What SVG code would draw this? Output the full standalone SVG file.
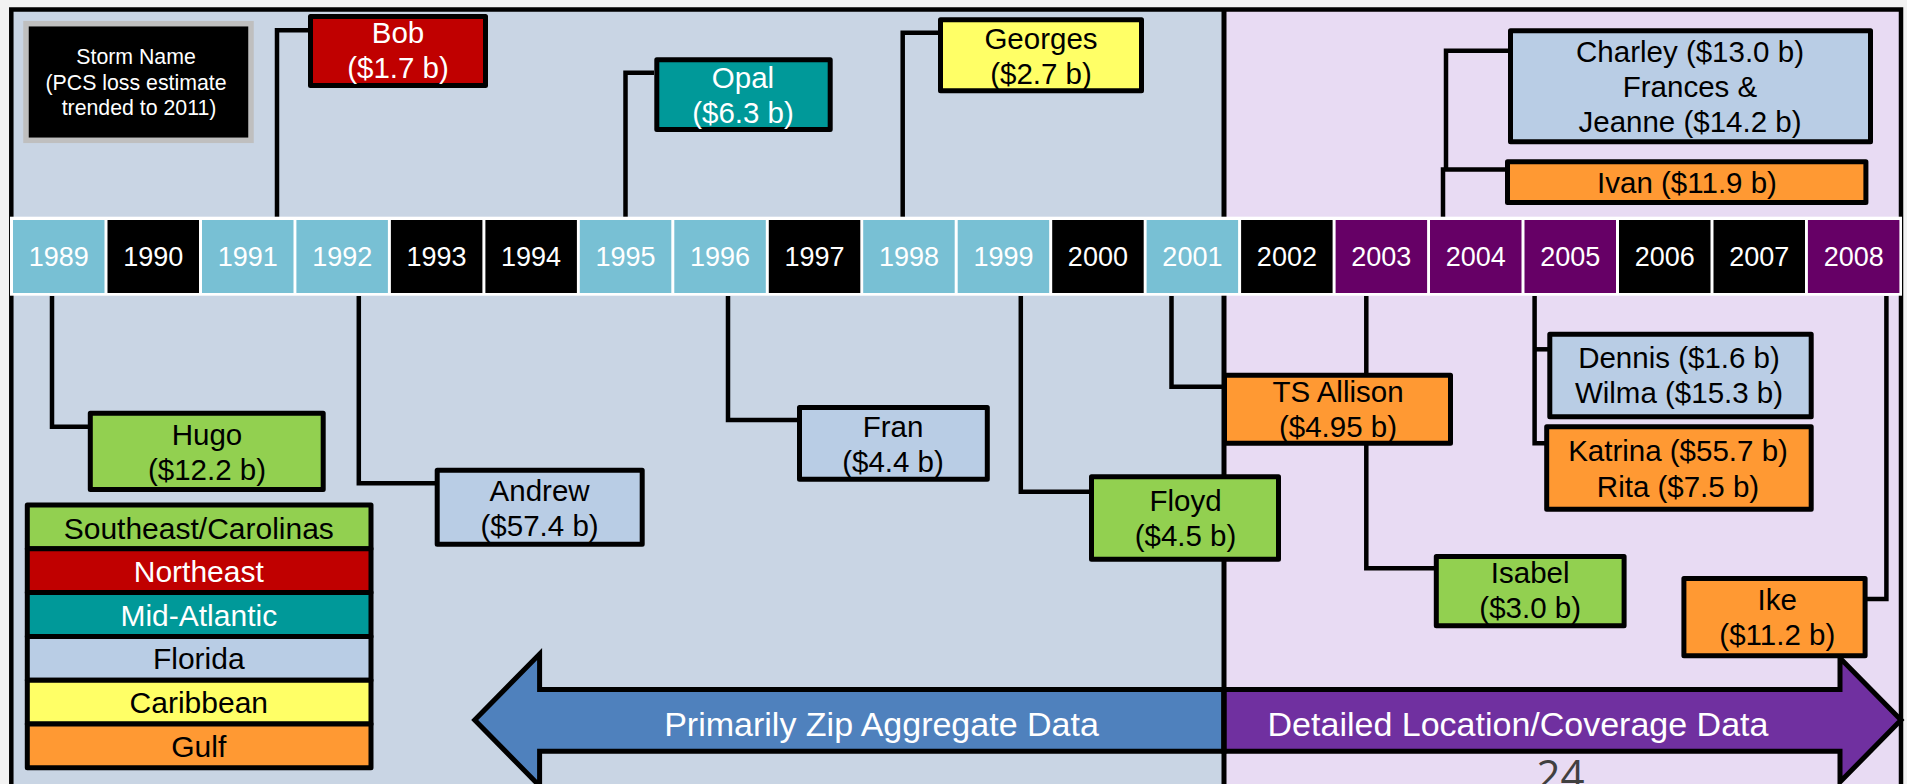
<svg xmlns="http://www.w3.org/2000/svg" width="1907" height="784" viewBox="0 0 1907 784">
  <style>
    .t { font-family: "Liberation Sans", Arial, sans-serif; text-anchor: middle; }
    .n { font-size: 29.5px; fill: #000; }
    .w { fill: #fff; }
    .yr { font-size: 27px; fill: #fff; }
    .lg { font-size: 30px; }
    .box { stroke: #000; stroke-width: 5; stroke-linejoin: round; }
    .conn { fill: none; stroke: #000; stroke-width: 4.5; stroke-linejoin: miter; }
    .green { fill: #92d050; }
    .red { fill: #c00000; }
    .teal { fill: #009999; }
    .fl { fill: #b9cde5; }
    .yel { fill: #ffff66; }
    .org { fill: #ff9933; }
    .lb { fill: #78c0d4; }
    .blk { fill: #000; }
    .pur { fill: #660066; }
  </style>

  <!-- page and the two era panels -->
  <rect x="0" y="0" width="1907" height="784" fill="#f2f2f2"/>
  <rect x="11.3" y="9.5" width="1212.7" height="800" fill="#c9d5e4"/>
  <rect x="1224" y="9.5" width="677" height="800" fill="#e8dbf3"/>
  <rect x="11.3" y="9.5" width="1889.7" height="800" fill="none" stroke="#000" stroke-width="4.5"/>

  <!-- data-era arrows -->
  <g id="arrow-zip">
    <path d="M474.7,720 L539.6,654 L539.6,689.5 L1224,689.5 L1224,751.2 L539.6,751.2 L539.6,786 Z" fill="#4f81bd" stroke="#000" stroke-width="5" stroke-linejoin="miter"/>
    <text class="t w" x="881.5" y="736" font-size="34">Primarily Zip Aggregate Data</text>
  </g>
  <g id="arrow-detailed">
    <path d="M1224,689.5 L1840,689.5 L1840,658 L1901,720 L1840,782 L1840,751.2 L1224,751.2 Z" fill="#7030a0" stroke="#000" stroke-width="5" stroke-linejoin="miter"/>
    <text class="t w" x="1518" y="736" font-size="34">Detailed Location/Coverage Data</text>
  </g>

  <!-- era divider -->
  <line x1="1224" y1="9.5" x2="1224" y2="784" stroke="#000" stroke-width="5"/>

  <!-- connectors from years to storms -->
  <g id="connectors" class="conn">
    <path d="M277,217 V30.3 H308"/>
    <path d="M625.5,217 V72.8 H654"/>
    <path d="M902.7,217 V32.7 H938"/>
    <path d="M1443,217 V169.5 H1505"/>
    <path d="M1446,169.5 V50.7 H1508"/>
    <path d="M52,296 V426.7 H88"/>
    <path d="M358.8,296 V483.3 H435"/>
    <path d="M728,296 V420 H797"/>
    <path d="M1020.8,296 V491.7 H1089"/>
    <path d="M1171.5,296 V386.7 H1222"/>
    <path d="M1366.3,296 V568.3 H1434"/>
    <path d="M1534.6,296 V443.3 H1545"/>
    <path d="M1534.6,349.3 H1548"/>
    <path d="M1886.4,296 V599 H1867"/>
  </g>

  <!-- timeline strip -->
  <g id="timeline">
    <rect x="10" y="216.7" width="1892" height="79" fill="#fff"/>
    <rect class="lb" x="13" y="220" width="91.5" height="73"/>
    <rect class="blk" x="107.5" y="220" width="91.5" height="73"/>
    <rect class="lb" x="202" y="220" width="91.5" height="73"/>
    <rect class="lb" x="296.4" y="220" width="91.5" height="73"/>
    <rect class="blk" x="390.9" y="220" width="91.5" height="73"/>
    <rect class="blk" x="485.4" y="220" width="91.5" height="73"/>
    <rect class="lb" x="579.8" y="220" width="91.5" height="73"/>
    <rect class="lb" x="674.3" y="220" width="91.5" height="73"/>
    <rect class="blk" x="768.8" y="220" width="91.5" height="73"/>
    <rect class="lb" x="863.2" y="220" width="91.5" height="73"/>
    <rect class="lb" x="957.7" y="220" width="91.5" height="73"/>
    <rect class="blk" x="1052.2" y="220" width="91.5" height="73"/>
    <rect class="lb" x="1146.6" y="220" width="91.5" height="73"/>
    <rect class="blk" x="1241.1" y="220" width="91.5" height="73"/>
    <rect class="pur" x="1335.6" y="220" width="91.5" height="73"/>
    <rect class="pur" x="1430" y="220" width="91.5" height="73"/>
    <rect class="pur" x="1524.5" y="220" width="91.5" height="73"/>
    <rect class="blk" x="1619" y="220" width="91.5" height="73"/>
    <rect class="blk" x="1713.5" y="220" width="91.5" height="73"/>
    <rect class="pur" x="1807.9" y="220" width="91.5" height="73"/>
    <g class="t yr">
      <text x="58.8" y="266">1989</text>
      <text x="153.2" y="266">1990</text>
      <text x="247.7" y="266">1991</text>
      <text x="342.2" y="266">1992</text>
      <text x="436.6" y="266">1993</text>
      <text x="531.1" y="266">1994</text>
      <text x="625.6" y="266">1995</text>
      <text x="720" y="266">1996</text>
      <text x="814.5" y="266">1997</text>
      <text x="909" y="266">1998</text>
      <text x="1003.5" y="266">1999</text>
      <text x="1097.9" y="266">2000</text>
      <text x="1192.4" y="266">2001</text>
      <text x="1286.9" y="266">2002</text>
      <text x="1381.3" y="266">2003</text>
      <text x="1475.8" y="266">2004</text>
      <text x="1570.3" y="266">2005</text>
      <text x="1664.7" y="266">2006</text>
      <text x="1759.2" y="266">2007</text>
      <text x="1853.7" y="266">2008</text>
    </g>
  </g>

  <!-- key: what each box shows -->
  <g id="key-storm">
    <rect x="26" y="23.7" width="225" height="116.6" fill="#000" stroke="#bfbfbf" stroke-width="5.5"/>
    <text class="t w" font-size="21.3px">
      <tspan x="139" y="64">Storm Name</tspan>
      <tspan x="139" y="90">(PCS loss estimate</tspan>
      <tspan x="139" y="115">trended to 2011)</tspan>
    </text>
  </g>

  <!-- storms above the timeline -->
  <g id="bob">
    <rect class="box red" x="310.5" y="16.5" width="175" height="69"/>
    <text class="t n w"><tspan x="398" y="43.3">Bob</tspan><tspan x="398" y="78.3">($1.7 b)</tspan></text>
  </g>
  <g id="opal">
    <rect class="box teal" x="656.8" y="59.8" width="173.4" height="69.7"/>
    <text class="t n w"><tspan x="743" y="87.5">Opal</tspan><tspan x="743" y="122.5">($6.3 b)</tspan></text>
  </g>
  <g id="georges">
    <rect class="box yel" x="940.5" y="19.8" width="201" height="71"/>
    <text class="t n"><tspan x="1041" y="49.3">Georges</tspan><tspan x="1041" y="84.3">($2.7 b)</tspan></text>
  </g>
  <g id="charley-frances-jeanne">
    <rect class="box fl" x="1510.5" y="30.8" width="360" height="111"/>
    <text class="t n"><tspan x="1690" y="61.7">Charley ($13.0 b)</tspan><tspan x="1690" y="96.7">Frances &amp;</tspan><tspan x="1690" y="131.5">Jeanne ($14.2 b)</tspan></text>
  </g>
  <g id="ivan">
    <rect class="box org" x="1507.5" y="161.8" width="358.4" height="40.7"/>
    <text class="t n" x="1687" y="192.7">Ivan ($11.9 b)</text>
  </g>

  <!-- storms below the timeline -->
  <g id="hugo">
    <rect class="box green" x="90.3" y="413.2" width="232.9" height="76.3"/>
    <text class="t n"><tspan x="207" y="445">Hugo</tspan><tspan x="207" y="480">($12.2 b)</tspan></text>
  </g>
  <g id="andrew">
    <rect class="box fl" x="437.2" y="470.2" width="205" height="74"/>
    <text class="t n"><tspan x="539.6" y="500.7">Andrew</tspan><tspan x="539.6" y="536">($57.4 b)</tspan></text>
  </g>
  <g id="fran">
    <rect class="box fl" x="799.5" y="407.5" width="187.8" height="71.7"/>
    <text class="t n"><tspan x="893" y="436.7">Fran</tspan><tspan x="893" y="471.7">($4.4 b)</tspan></text>
  </g>
  <g id="floyd">
    <rect class="box green" x="1091.5" y="476.8" width="187" height="82.4"/>
    <text class="t n"><tspan x="1185.5" y="510.7">Floyd</tspan><tspan x="1185.5" y="546">($4.5 b)</tspan></text>
  </g>
  <g id="ts-allison">
    <rect class="box org" x="1224.5" y="375.2" width="226" height="68"/>
    <text class="t n"><tspan x="1338" y="401.7">TS Allison</tspan><tspan x="1338" y="436.7">($4.95 b)</tspan></text>
  </g>
  <g id="isabel">
    <rect class="box green" x="1436.3" y="556.5" width="187.8" height="69.3"/>
    <text class="t n"><tspan x="1530.2" y="583.3">Isabel</tspan><tspan x="1530.2" y="618.3">($3.0 b)</tspan></text>
  </g>
  <g id="dennis-wilma">
    <rect class="box fl" x="1549.8" y="334.2" width="261.4" height="82.6"/>
    <text class="t n"><tspan x="1679" y="368.3">Dennis ($1.6 b)</tspan><tspan x="1679" y="403.3">Wilma ($15.3 b)</tspan></text>
  </g>
  <g id="katrina-rita">
    <rect class="box org" x="1546.7" y="426.8" width="264.5" height="82.4"/>
    <text class="t n"><tspan x="1678" y="461">Katrina ($55.7 b)</tspan><tspan x="1678" y="496.7">Rita ($7.5 b)</tspan></text>
  </g>
  <g id="ike">
    <rect class="box org" x="1683.9" y="578.5" width="181.2" height="77.3"/>
    <text class="t n"><tspan x="1777.3" y="610">Ike</tspan><tspan x="1777.3" y="645">($11.2 b)</tspan></text>
  </g>

  <!-- region colour key -->
  <g id="key-regions">
    <rect class="box green" x="27.3" y="505" width="343.7" height="43.8" stroke-linejoin="miter"/>
    <rect class="box red" x="27.3" y="548.8" width="343.7" height="43.8" stroke-linejoin="miter"/>
    <rect class="box teal" x="27.3" y="592.6" width="343.7" height="43.8" stroke-linejoin="miter"/>
    <rect class="box fl" x="27.3" y="636.4" width="343.7" height="43.8" stroke-linejoin="miter"/>
    <rect class="box yel" x="27.3" y="680.2" width="343.7" height="43.8" stroke-linejoin="miter"/>
    <rect class="box org" x="27.3" y="724" width="343.7" height="43.8" stroke-linejoin="miter"/>
    <g class="t lg">
      <text x="198.8" y="539.3">Southeast/Carolinas</text>
      <text x="198.8" y="582" fill="#fff">Northeast</text>
      <text x="198.8" y="625.5" fill="#fff">Mid-Atlantic</text>
      <text x="198.8" y="669.3">Florida</text>
      <text x="198.8" y="713.3">Caribbean</text>
      <text x="198.8" y="756.7">Gulf</text>
    </g>
  </g>

  <!-- slide number -->
  <text x="1560.5" y="790" font-family="'Open Sans', 'Liberation Sans', sans-serif" font-size="42" fill="#404040" text-anchor="middle">24</text>
</svg>
